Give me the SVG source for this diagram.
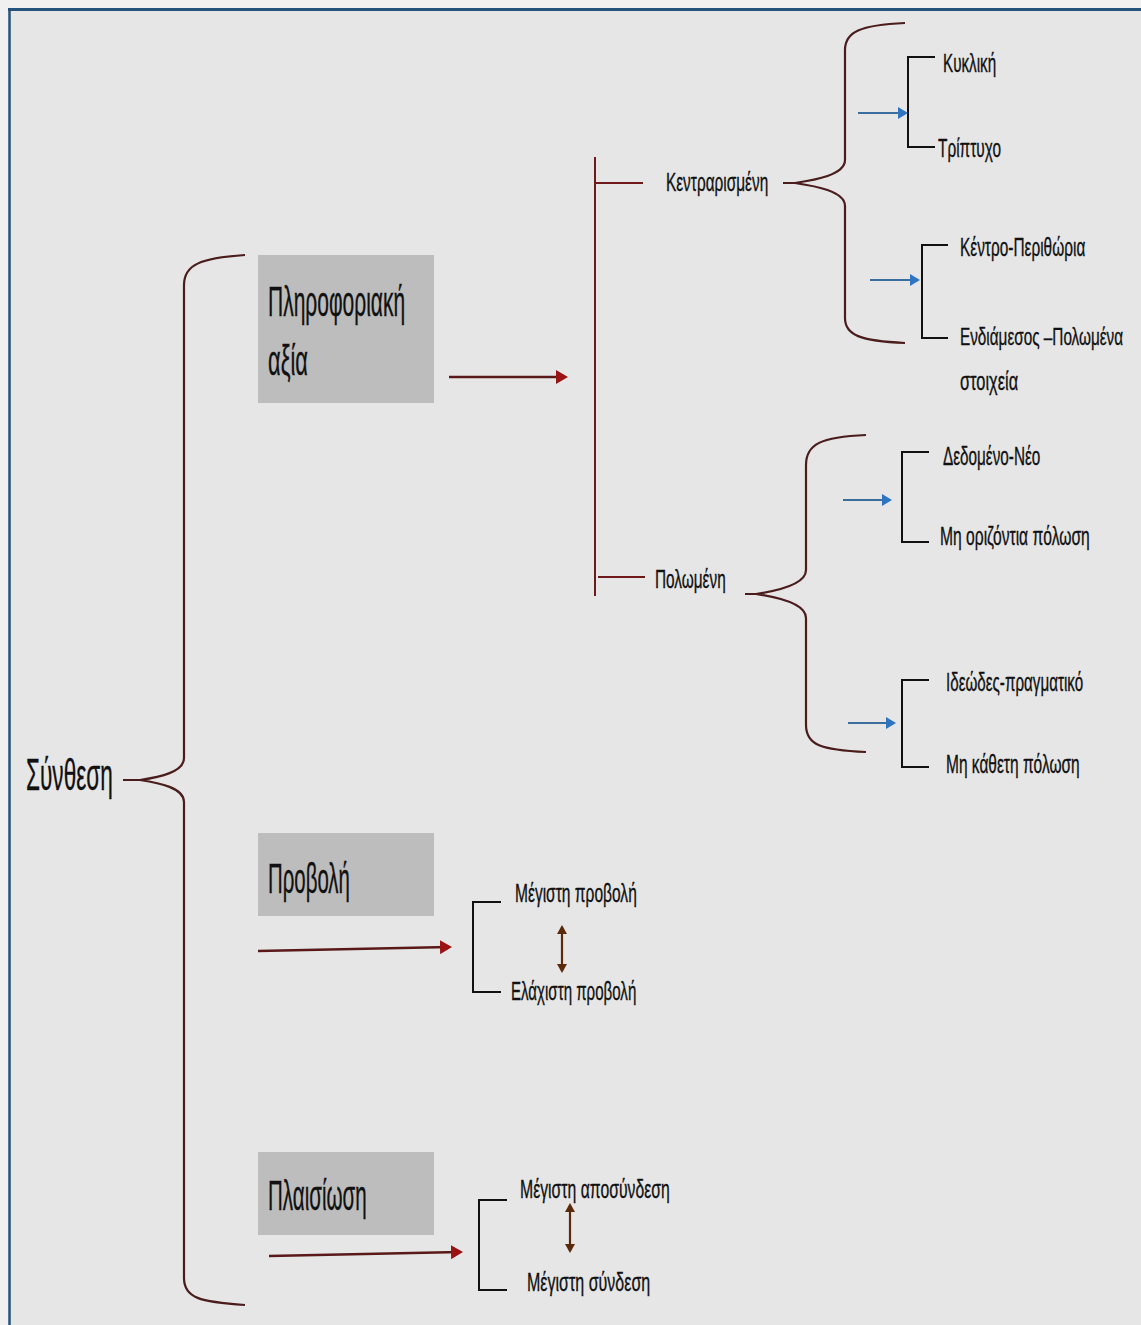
<svg xmlns="http://www.w3.org/2000/svg" width="1141" height="1325" viewBox="0 0 1141 1325">
<defs>
<marker id="redHead" markerWidth="12" markerHeight="14" refX="9" refY="7" orient="auto" markerUnits="userSpaceOnUse"><path d="M0,0 L12,7 L0,14 Z" fill="#9b1212"/></marker>
<marker id="blueHead" markerWidth="10" markerHeight="12" refX="8" refY="6" orient="auto" markerUnits="userSpaceOnUse"><path d="M0,0 L10,6 L0,12 Z" fill="#2e74c0"/></marker>
<marker id="brownHead" markerWidth="9" markerHeight="10" refX="7" refY="5" orient="auto-start-reverse" markerUnits="userSpaceOnUse"><path d="M0,0 L9,5 L0,10 Z" fill="#5b2a0a"/></marker>
</defs>
<style>
.brace{fill:none;stroke:#4a1c1c;stroke-width:2.2}
.redline{fill:none;stroke:#6e1a1a;stroke-width:2}
.bracket{fill:none;stroke:#111;stroke-width:2}
.arrowR{stroke:#5a1818;stroke-width:2.4;marker-end:url(#redHead)}
.arrowB{stroke:#3a6e9e;stroke-width:2.2;marker-end:url(#blueHead)}
.arrowD{stroke:#5b2a0a;stroke-width:2.2;marker-start:url(#brownHead);marker-end:url(#brownHead)}
.box{fill:#bdbdbd}
text{font-family:"Liberation Sans","Noto Sans",sans-serif;fill:#111;stroke:#111;stroke-width:0.35}
.big{font-size:42px}
.huge{font-size:45px}
.sm{font-size:25.5px}
.smx{font-size:24px}
</style>
<rect x="0" y="0" width="1141" height="1325" fill="#f0f0f0"/>
<rect x="9" y="9" width="1132" height="1316" fill="#e6e6e6"/>
<line x1="8" y1="9.5" x2="1141" y2="9.5" stroke="#24527a" stroke-width="3"/>
<line x1="9.5" y1="8" x2="9.5" y2="1325" stroke="#24527a" stroke-width="2.5"/>

<g id="connectors">
<path class="brace" d="M245,255 C200,258 184,265 184,285 L184,758 C184,772 160,777 140,780 L123,780 M140,780 C160,783 184,788 184,802 L184,1278 C184,1298 200,1302 245,1305"/>
<line class="arrowR" x1="449" y1="377" x2="565" y2="377"/>
<line class="redline" x1="595" y1="157" x2="595" y2="596"/>
<line class="redline" x1="595" y1="183" x2="643" y2="183"/>
<line class="redline" x1="598" y1="577" x2="645" y2="577"/>
<path class="brace" d="M905,23 C860,25 845,32 845,50 L845,160 C845,175 815,180 795,183 L783,183 M795,183 C815,186 845,191 845,206 L845,318 C845,335 860,341 905,343"/>
<path class="brace" d="M866,435 C821,437 806,444 806,465 L806,570 C806,585 776,591 756,594 L745,594 M756,594 C776,597 806,603 806,618 L806,725 C806,745 821,750 866,752"/>
<path class="bracket" d="M935,57 L908,57 L908,147 L935,147"/>
<line class="arrowB" x1="858" y1="113" x2="906" y2="113"/>
<path class="bracket" d="M948,245 L922,245 L922,338 L948,338"/>
<line class="arrowB" x1="870" y1="280" x2="918" y2="280"/>
<path class="bracket" d="M929,452 L902,452 L902,542 L929,542"/>
<line class="arrowB" x1="843" y1="500" x2="890" y2="500"/>
<path class="bracket" d="M929,680 L902,680 L902,767 L929,767"/>
<line class="arrowB" x1="848" y1="723" x2="894" y2="723"/>
<line class="arrowR" x1="258" y1="951" x2="449" y2="947"/>
<path class="bracket" d="M501,902 L473,902 L473,992 L501,992"/>
<line class="arrowD" x1="562" y1="927" x2="562" y2="971"/>
<line class="arrowR" x1="269" y1="1256" x2="460" y2="1252"/>
<path class="bracket" d="M507,1200 L479,1200 L479,1290 L507,1290"/>
<line class="arrowD" x1="570" y1="1205" x2="570" y2="1251"/>
</g>

<g id="n-synthesi"><text class="huge" transform="translate(26,790) scale(0.7,1)" textLength="124" lengthAdjust="spacingAndGlyphs">Σύνθεση</text></g>
<g id="n-pliroforiaki">
<rect class="box" x="258" y="255" width="176" height="148"/>
<text class="big" transform="translate(268,316) scale(0.7,1)" textLength="196" lengthAdjust="spacingAndGlyphs">Πληροφοριακή</text>
<text class="big" transform="translate(268,375) scale(0.7,1)" textLength="57" lengthAdjust="spacingAndGlyphs">αξία</text>
</g>
<g id="n-provoli">
<rect class="box" x="258" y="833" width="176" height="83"/>
<text class="big" transform="translate(268,893) scale(0.7,1)" textLength="117" lengthAdjust="spacingAndGlyphs">Προβολή</text>
</g>
<g id="n-plaisiosi">
<rect class="box" x="258" y="1152" width="176" height="83"/>
<text class="big" transform="translate(268,1210) scale(0.7,1)" textLength="141" lengthAdjust="spacingAndGlyphs">Πλαισίωση</text>
</g>
<g id="n-kentrarismeni"><text class="sm" transform="translate(666,191) scale(0.7,1)" textLength="146" lengthAdjust="spacingAndGlyphs">Κεντραρισμένη</text></g>
<g id="n-polomeni"><text class="sm" transform="translate(655,588) scale(0.7,1)" textLength="101" lengthAdjust="spacingAndGlyphs">Πολωμένη</text></g>
<g id="n-kykliki"><text class="sm" transform="translate(943,72) scale(0.7,1)" textLength="76" lengthAdjust="spacingAndGlyphs">Κυκλική</text></g>
<g id="n-triptyxo"><text class="sm" transform="translate(938,157) scale(0.7,1)" textLength="90" lengthAdjust="spacingAndGlyphs">Τρίπτυχο</text></g>
<g id="n-kentro"><text class="sm" transform="translate(960,256) scale(0.7,1)" textLength="179" lengthAdjust="spacingAndGlyphs">Κέντρο-Περιθώρια</text></g>
<g id="n-endiamesos">
<text class="smx" transform="translate(960,345) scale(0.7,1)" textLength="233" lengthAdjust="spacingAndGlyphs">Ενδιάμεσος –Πολωμένα</text>
<text class="sm" transform="translate(960,390) scale(0.7,1)" textLength="83" lengthAdjust="spacingAndGlyphs">στοιχεία</text>
</g>
<g id="n-dedomeno"><text class="sm" transform="translate(943,465) scale(0.7,1)" textLength="139" lengthAdjust="spacingAndGlyphs">Δεδομένο-Νέο</text></g>
<g id="n-mi-orizontia"><text class="sm" transform="translate(940,545) scale(0.7,1)" textLength="214" lengthAdjust="spacingAndGlyphs">Μη οριζόντια πόλωση</text></g>
<g id="n-ideodes"><text class="sm" transform="translate(946,691) scale(0.7,1)" textLength="196" lengthAdjust="spacingAndGlyphs">Ιδεώδες-πραγματικό</text></g>
<g id="n-mi-katheti"><text class="sm" transform="translate(946,773) scale(0.7,1)" textLength="191" lengthAdjust="spacingAndGlyphs">Μη κάθετη πόλωση</text></g>
<g id="n-megisti-provoli"><text class="sm" transform="translate(515,902) scale(0.7,1)" textLength="174" lengthAdjust="spacingAndGlyphs">Μέγιστη προβολή</text></g>
<g id="n-elaxisti-provoli"><text class="sm" transform="translate(511,1000) scale(0.7,1)" textLength="179" lengthAdjust="spacingAndGlyphs">Ελάχιστη προβολή</text></g>
<g id="n-megisti-aposyndesi"><text class="sm" transform="translate(520,1198) scale(0.7,1)" textLength="214" lengthAdjust="spacingAndGlyphs">Μέγιστη αποσύνδεση</text></g>
<g id="n-megisti-syndesi"><text class="sm" transform="translate(527,1291) scale(0.7,1)" textLength="176" lengthAdjust="spacingAndGlyphs">Μέγιστη σύνδεση</text></g>
</svg>
